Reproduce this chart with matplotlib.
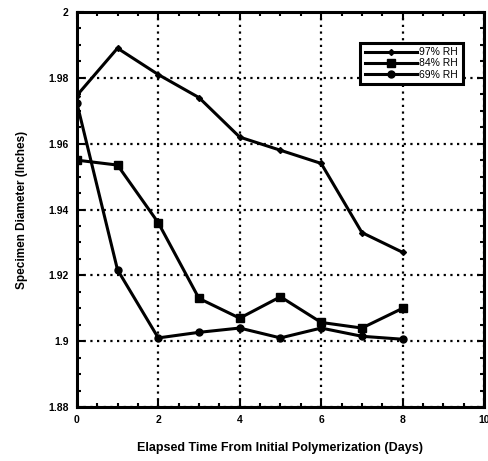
import matplotlib
matplotlib.use("Agg")
import matplotlib.pyplot as plt
from matplotlib.ticker import MultipleLocator

days = [0, 1, 2, 3, 4, 5, 6, 7, 8]
rh97 = [1.9746, 1.989, 1.981, 1.974, 1.962, 1.958, 1.954, 1.933, 1.927]
rh84 = [1.955, 1.9535, 1.936, 1.913, 1.907, 1.9135, 1.9057, 1.904, 1.910]
rh69 = [1.9725, 1.9217, 1.901, 1.9027, 1.904, 1.901, 1.904, 1.9015, 1.9006]
labels = ["97% RH", "84% RH", "69% RH"]

plt.rcParams['font.family'] = ['Liberation Sans', 'DejaVu Sans']
plt.rcParams['font.weight'] = 'bold'

fig = plt.figure(figsize=(4.89, 4.61), dpi=100)
fig.patch.set_facecolor('white')
ax = fig.add_axes([0.157, 0.117, 0.833, 0.857])

ax.plot(days, rh97, color='black', lw=2.2, marker='D', ms=3, label=labels[0])
ax.plot(days, rh84, color='black', lw=2.2, marker='s', ms=5.5, label=labels[1])
ax.plot(days, rh69, color='black', lw=2.2, marker='o', ms=5, label=labels[2])

ax.set_xlim(0, 10)
ax.set_ylim(1.88, 2.0)
ax.xaxis.set_minor_locator(MultipleLocator(0.5))
ax.yaxis.set_minor_locator(MultipleLocator(0.005))
ax.set_yticks([1.88, 1.9, 1.92, 1.94, 1.96, 1.98, 2.0])
ax.set_yticklabels(['1.88', '1.9', '1.92', '1.94', '1.96', '1.98', '2'])
ax.set_xticks([0, 2, 4, 6, 8, 10])
ax.set_xticklabels(['0', '2', '4', '6', '8', '10'])

ax.grid(True, which='major', color='black', linestyle=(0, (1, 2)), lw=1.6)
ax.tick_params(which='both', direction='in', top=True, right=True, width=1.5,
               labelsize=7.5, pad=6)
ax.tick_params(which='major', length=5)
ax.tick_params(which='minor', length=3)
for s in ax.spines.values():
    s.set_linewidth(2.2)

ax.set_xlabel('Elapsed Time From Initial Polymerization (Days)', fontsize=9,
              fontweight='bold', labelpad=12)
ax.set_ylabel('Specimen Diameter (Inches)', fontsize=8.5, fontweight='bold',
              labelpad=14)

leg = ax.legend(loc='upper right', bbox_to_anchor=(0.955, 0.93), fontsize=7.5,
                frameon=True, fancybox=False, edgecolor='black',
                handlelength=5.0, handletextpad=0.2, labelspacing=0.1,
                borderpad=0.45, borderaxespad=0.3)
leg.get_frame().set_linewidth(2.2)
leg.get_frame().set_facecolor('white')
leg.get_frame().set_alpha(1)
for t in leg.get_texts():
    t.set_fontweight('normal')

fig.savefig('out.png', dpi=100, facecolor='white')
